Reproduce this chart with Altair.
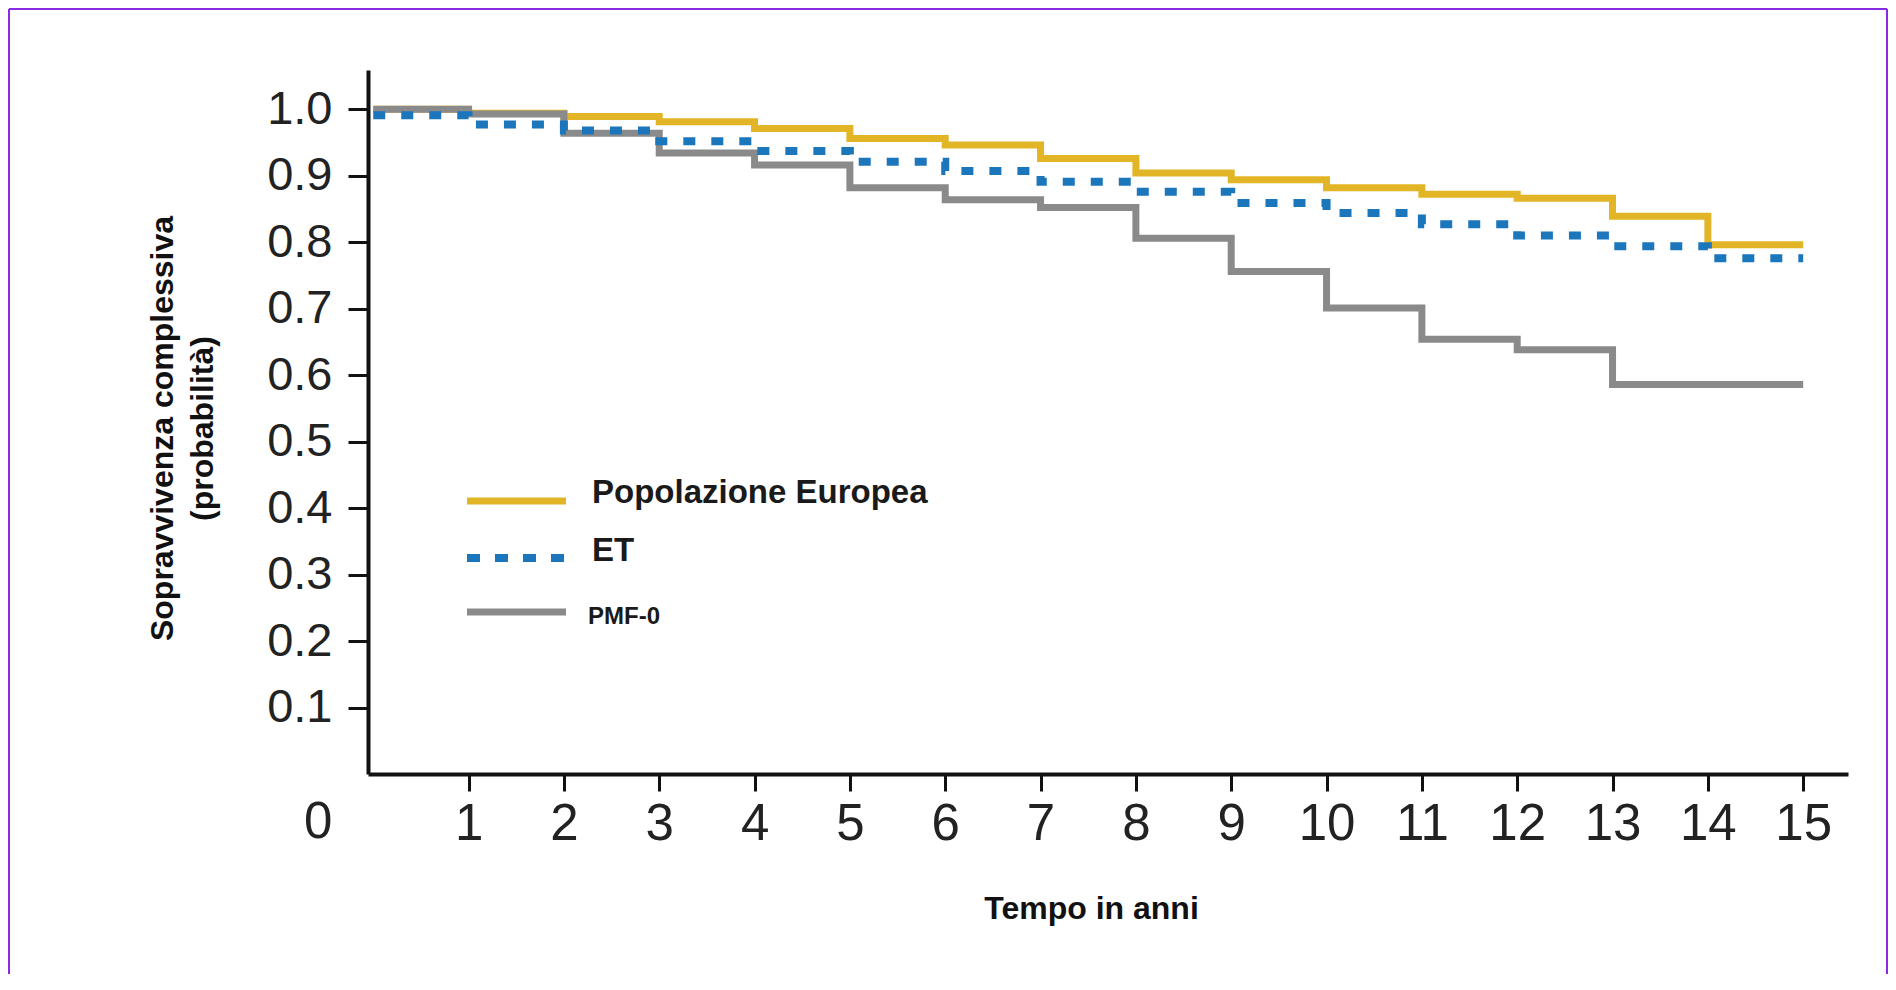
import altair as alt
import pandas as pd

# ---- data ----
anni = list(range(16))
serie = ["Popolazione Europea", "ET", "PMF-0"]
popolazione = [1.0, 0.994, 0.989, 0.981, 0.971, 0.956, 0.946, 0.926, 0.904, 0.894,
               0.882, 0.872, 0.866, 0.839, 0.796, 0.796]
et = [0.991, 0.977, 0.968, 0.952, 0.937, 0.921, 0.907, 0.891, 0.876, 0.859,
      0.844, 0.827, 0.810, 0.794, 0.776, 0.776]
pmf0 = [1.0, 0.993, 0.964, 0.934, 0.916, 0.882, 0.864, 0.852, 0.806, 0.756,
        0.701, 0.654, 0.638, 0.586, 0.586, 0.586]
x_ticks = list(range(1, 16))
y_ticks = [0.1, 0.2, 0.3, 0.4, 0.5, 0.6, 0.7, 0.8, 0.9, 1.0]

colori = {"Popolazione Europea": "#E2B526", "ET": "#1B76BC", "PMF-0": "#8A8A8A"}

rows = []
for nome, vals in zip(serie, [popolazione, et, pmf0]):
    for t, v in zip(anni, vals):
        rows.append({"serie": nome, "anni": t, "sopr": v})
df = pd.DataFrame(rows)

FONT = "Liberation Sans"
W, H = 1480, 704

x_enc = alt.X(
    "anni:Q",
    scale=alt.Scale(domain=[-0.055, 15.47], nice=False, zero=False),
    axis=alt.Axis(
        values=x_ticks, format="d", title="Tempo in anni",
        grid=False, domainWidth=4, domainColor="#111", tickWidth=3, tickColor="#111",
        tickSize=17, labelPadding=8, labelFontSize=51, labelFont=FONT, labelColor="#222",
        labelFlush=False, labelOverlap=False,
        titleFont=FONT, titleFontSize=32, titleFontWeight="bold", titleColor="#111",
        titleX=723, titleY=134, titleAlign="center", titleBaseline="middle",
    ),
)
y_enc = alt.Y(
    "sopr:Q",
    scale=alt.Scale(domain=[0, 1.059], nice=False, zero=True),
    axis=alt.Axis(
        values=y_ticks, format=".1f", title=["Sopravvivenza complessiva", "(probabilità)"],
        grid=False, domainWidth=4, domainColor="#111", tickWidth=3, tickColor="#111",
        tickSize=20, labelPadding=16, labelFontSize=47, labelFont=FONT, labelColor="#222",
        labelFlush=False, labelOverlap=False,
        titleFont=FONT, titleFontSize=32, titleFontWeight="bold", titleColor="#111",
        titleLineHeight=40, titleAngle=270,
        titleX=-206, titleY=358, titleAlign="center", titleBaseline="middle",
    ),
)

base = alt.Chart(df)

def linea(nome, dash=None, width=7):
    kw = dict(interpolate="step-after", color=colori[nome], strokeWidth=width,
              strokeCap="butt", strokeJoin="miter")
    if dash:
        kw["strokeDash"] = dash
    return base.transform_filter(alt.datum.serie == nome).mark_line(**kw).encode(
        x=x_enc, y=y_enc, order="anni:Q")

l_pop = linea("Popolazione Europea")
l_pmf = linea("PMF-0")
l_et = linea("ET", dash=[12, 16], width=8)

zero_lbl = alt.Chart(pd.DataFrame({"t": ["0"]})).mark_text(
    font=FONT, fontSize=51, color="#222", align="center", baseline="middle",
    dx=-55, dy=49).encode(x=alt.datum(0), y=alt.datum(0), text="t:N")

# ---- manual legend ----
leg_y_line = [431, 488, 542]
leg_y_text = [423, 481, 547]
leg_size = [33, 33, 24]
leg_x_text = [224, 224, 220]
legend_layers = []
for i, nome in enumerate(serie):
    kw = dict(color=colori[nome], strokeWidth=8 if nome == "ET" else 7, strokeCap="butt")
    if nome == "ET":
        kw["strokeDash"] = [13, 15]
    legend_layers.append(
        alt.Chart(pd.DataFrame({"s": [nome]})).mark_rule(**kw).encode(
            x=alt.value(99), x2=alt.value(198), y=alt.value(leg_y_line[i])))
    legend_layers.append(
        alt.Chart(pd.DataFrame({"s": [nome]})).mark_text(
            font=FONT, fontSize=leg_size[i], fontWeight="bold", color="#1a1a1a",
            align="left", baseline="middle").encode(
            x=alt.value(leg_x_text[i]), y=alt.value(leg_y_text[i]), text="s:N"))

# purple frame of the original picture (top, left, right edges)
bd = pd.DataFrame({"b": [0]})
frame_kw = dict(color="#8A2BE2", strokeWidth=2)
frame = [
    alt.Chart(bd).mark_rule(**frame_kw).encode(
        x=alt.value(-359), x2=alt.value(1519), y=alt.value(-61)),
    alt.Chart(bd).mark_rule(**frame_kw).encode(
        x=alt.value(-359), y=alt.value(-61), y2=alt.value(H + 200)),
    alt.Chart(bd).mark_rule(**frame_kw).encode(
        x=alt.value(1519), y=alt.value(-61), y2=alt.value(H + 200)),
]

chart = alt.layer(*frame, l_pop, l_pmf, l_et, zero_lbl, *legend_layers).properties(
    width=W, height=H,
    autosize=alt.AutoSizeParams(type="none"),
    padding={"left": 360, "top": 62, "right": 40, "bottom": 200},
    view=alt.ViewBackground(stroke="transparent", strokeWidth=0, strokeOpacity=0),
).configure_view(stroke="transparent", strokeWidth=0, strokeOpacity=0).configure(
    background="white")

chart.save("out.html", embed_options={"renderer": "svg", "actions": False})
